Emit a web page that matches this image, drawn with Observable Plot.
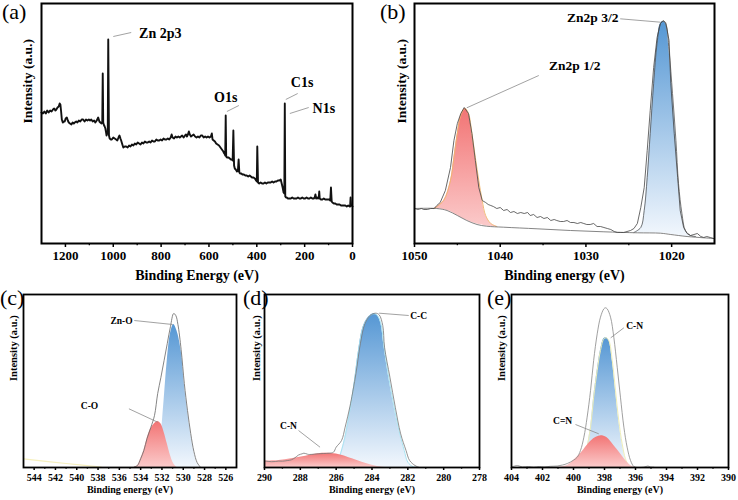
<!DOCTYPE html>
<html>
<head>
<meta charset="utf-8">
<script src="https://cdn.jsdelivr.net/npm/d3@7"></script>
<script src="https://cdn.jsdelivr.net/npm/@observablehq/plot@0.6"></script>
<style>
  html, body { margin: 0; padding: 0; background: #fff; }
  #fig { position: relative; width: 738px; height: 500px; overflow: hidden; background: #fff; }
  #fig svg text { font-family: "Liberation Serif", "Times New Roman", Times, serif; }
  .tag { position: absolute; font-family: "Liberation Serif", "Times New Roman", serif; line-height: 1; color: #000; }
</style>
</head>
<body>
<div id="fig">
  <svg width="0" height="0" style="position:absolute">
    <defs>
      <linearGradient id="blueFade" x1="0" y1="0" x2="0" y2="1">
        <stop offset="0" stop-color="#5597d4"/>
        <stop offset="1" stop-color="#f2f7fd"/>
      </linearGradient>
      <linearGradient id="redFade" x1="0" y1="0" x2="0" y2="1">
        <stop offset="0" stop-color="#f27474"/>
        <stop offset="1" stop-color="#fbcaca"/>
      </linearGradient>
    </defs>
  </svg>
  <div class="tag" style="left:2px;top:1px;font-size:22px">(a)</div>
  <div class="tag" style="left:380px;top:1px;font-size:22px">(b)</div>
  <div class="tag" style="left:0px;top:287px;font-size:22px">(c)</div>
  <div class="tag" style="left:243px;top:287px;font-size:22px">(d)</div>
  <div class="tag" style="left:487px;top:287px;font-size:22px">(e)</div>
</div>
<script>
// ---------- (a) survey spectrum: [binding energy (eV), intensity (a.u.)] ----------
const survey = [
  [1300,131],[1294,130],[1288,132],[1282,130],[1276,133],[1270,131],[1264,133],[1258,132],[1252,134],[1247,135],
  [1242,133],[1238,134],[1233,136],[1228,137],[1224,140],[1221,139],[1218,132],[1215,124],[1211,121],[1207,122],
  [1203,122],[1199,125],[1194,126],[1190,123],[1186,121],[1181,120],[1175,119],[1170,121],[1165,120],[1161,121],
  [1155,122],[1150,121],[1144,123],[1138,122],[1132,124],[1126,124],[1120,122],[1114,124],[1108,123],[1102,124],
  [1097,123],[1092,124],[1086,122],[1080,123],[1075,121],[1069,123],[1063,126],[1058,122],[1054,121],[1049,120],
  [1046,122],[1044,170],[1042,121],[1040,119],[1036,117],[1033,115],[1030,111],[1028,108],[1025,110],[1023,112],
  [1021,204],[1018,108],[1015,105],[1010,104],[1006,104],[1000,106],[994,105],[988,104],[983,103],[978,106],
  [974,108],[970,105],[967,103],[962,99],[958,96],[952,97],[946,97],[940,96],[934,98],[928,97],
  [922,99],[916,98],[910,100],[904,99],[898,101],[892,100],[886,99],[880,101],[874,100],[868,102],
  [862,101],[856,101],[850,102],[844,101],[838,103],[832,102],[826,102],[820,104],[814,103],[808,103],
  [802,104],[796,103],[790,105],[784,104],[778,104],[772,105],[766,104],[760,106],[756,109],[752,106],
  [746,105],[740,107],[734,106],[728,107],[722,106],[717,107],[712,108],[706,106],[700,108],[696,109],
  [692,107],[688,109],[684,112],[680,109],[675,107],[670,108],[664,109],[658,107],[652,106],[646,107],
  [640,106],[634,108],[628,108],[622,106],[616,107],[610,106],[604,107],[598,106],[592,107],[588,110],
  [585,104],[580,103],[575,102],[570,100],[564,99],[558,98],[552,96],[546,94],[540,92],[536,90],
  [533,89],[532,88],[530,128],[528,87],[524,86],[518,86],[513,85],[508,84],[504,84],[501,83],
  [498,113],[495,78],[492,75],[488,74],[483,72],[479,73],[476,84],[473,71],[470,70],[465,70],
  [460,69],[454,69],[448,68],[442,68],[436,67],[430,68],[425,67],[420,66],[414,66],[408,65],
  [403,63],[400,62],[398,97],[395,61],[390,60],[384,61],[378,60],[372,60],[366,61],[360,60],
  [354,61],[348,61],[342,61],[336,62],[330,61],[324,62],[318,62],[312,63],[306,63],[300,64],
  [296,60],[292,56],[288,51],[285,50],[283,140],[281,47],[278,46],[275,46],[270,45],[264,45],
  [258,45],[252,46],[246,45],[240,45],[234,45],[228,46],[222,45],[216,45],[210,46],[204,45],
  [198,45],[192,46],[186,45],[180,45],[174,46],[168,45],[162,45],[158,46],[155,49],[152,45],
  [148,46],[144,45],[141,46],[139,52],[137,45],[132,44],[126,44],[120,45],[114,44],[108,44],
  [102,44],[97,44],[93,43],[90,56],[87,42],[84,41],[78,40],[72,40],[66,39],[60,39],
  [54,39],[48,38],[42,38],[36,38],[30,38],[24,37],[18,38],[12,37],[10,37],[8,46],
  [6,38],[3,38],[0,37]
];
const surveyTicks = [1200, 1000, 800, 600, 400, 200, 0];
const surveyMinor = [1100, 900, 700, 500, 300, 100];
const surveyLabels = ["Zn 2p3", "O1s", "C1s", "N1s"];
const surveyLabelAt = [[892, 210], [579, 146], [258, 161], [167, 135]];
const surveyLeaders = [[1000, 207, 925, 211], [525, 132, 475, 138], [279, 144, 229, 150], [262, 130, 183, 136]];

// ---------- (b) Zn 2p: measured envelope, Shirley background, fitted doublet ----------
const zn2pEnvelope = [
  [1050,35],[1049.6,34],[1049.2,35],[1048.9,34],[1048.5,34],[1048.1,35],[1047.7,35],[1047.4,38],[1047.0,41],
  [1046.4,53],[1045.8,76],[1045.4,103],[1045.0,120],[1044.6,130],[1044.2,136],[1043.7,130],[1043.3,110],
  [1042.9,83],[1042.5,56],[1042.1,43],[1041.7,41],[1041.4,39],[1041.1,38],[1040.8,37],[1040.4,35],[1040.0,36],
  [1039.6,33],[1039.2,34],[1038.8,31],[1038.4,32],[1038.0,30],[1037.6,31],[1037.2,30],[1036.8,31],[1036.5,28],
  [1036.1,29],[1035.7,26],[1035.3,27],[1034.9,25],[1034.5,26],[1034.1,23],[1033.7,24],[1033.4,23],[1033.0,22],
  [1032.6,22],[1032.2,23],[1031.8,21],[1031.4,21],[1031.0,20],[1030.6,21],[1030.25,20],[1029.9,19],[1029.5,19],
  [1029.1,20],[1028.7,17],[1028.3,17],[1027.9,16],[1027.5,15],[1027.1,14],[1026.7,12],[1026.35,11],[1026.0,11],
  [1025.6,11],[1025.2,12],[1024.8,13],[1024.4,15],[1024.0,20],[1023.6,36],[1023.2,56],[1022.85,93],[1022.5,133],
  [1022.1,176],[1021.7,206],[1021.3,220],[1021.0,223],[1020.7,221],[1020.3,203],[1020.1,160],[1019.7,110],
  [1019.3,66],[1019.0,33],[1018.6,16],[1018.2,10],[1017.8,8],[1017.4,9],[1017.0,10],[1016.6,7],[1016.25,6],
  [1015.9,7],[1015.5,6],[1015.1,5]
];
const zn2pBackground = [
  [1050,35],[1047.4,35],[1046.2,33],[1045.0,28],[1043.9,23],[1042.7,19],[1041.6,17.3],[1039.6,16.3],
  [1035.7,14.7],[1031.8,13],[1027.9,11.7],[1024.0,10.7],[1021.3,10.3],[1020.1,9],[1018.2,7],[1016.25,5.7],[1015.1,5]
];
// [eV, component, background]
const zn2p12 = [
  [1047.7,35,35],[1046.6,43,34],[1045.8,63,32],[1045.4,86,30],[1045.0,110,28],[1044.6,128,26],[1044.1,135,24],
  [1043.7,130,22.5],[1043.3,110,21],[1042.9,86,20],[1042.5,63,19],[1042.1,43,18.5],[1041.7,28,17.5],
  [1041.1,20,17],[1040.4,17,16.5]
];
const zn2p32 = [
  [1024.4,11,10.7],[1023.6,16,10.6],[1023.2,33,10.5],[1022.85,66,10.5],[1022.5,110,10.4],[1022.1,160,10.4],
  [1021.7,200,10.3],[1021.3,220,10.3],[1021.0,222,10.2],[1020.7,220,10],[1020.3,193,9.5],[1019.9,150,9],
  [1019.5,103,8.5],[1019.2,60,8],[1018.8,30,7.5],[1018.4,13,7.2],[1017.8,8,6.8],[1017.2,7,6.5]
];
const zn2pTicks = [1050, 1040, 1030, 1020];
const zn2pMinor = [1045, 1035, 1025];
const zn2pLabels = ["Zn2p 3/2", "Zn2p 1/2"];
const zn2pLabelAt = [[1029.2, 225.7], [1031.3, 178]];
const zn2pLeaders = [[1026.0, 224.7, 1021.3, 221.3], [1035.5, 168, 1043.9, 135.7]];

// ---------- (c) O 1s ----------
const o1sEnvelope = [
  [534.6,0.5],[534.3,2],[534.0,8.7],[533.7,17],[533.4,29],[533.05,40],[532.7,52],[532.4,74],[532.1,90],
  [531.8,107],[531.5,124],[531.2,141],[530.9,154],[530.7,152],[530.5,143],[530.2,118],[529.9,84],[529.6,57],
  [529.3,34],[529.0,16],[528.7,5],[528.4,0.5]
];
const o1sZnO = [
  [533.2,0],[532.9,1],[532.4,10.3],[532.1,30.3],[531.8,67],[531.5,107],[531.2,133.7],[530.9,143],[530.6,137],
  [530.2,117],[529.9,83.7],[529.6,57],[529.3,33.7],[529.0,15.3],[528.7,3.7],[528.4,0]
];
const o1sCO = [
  [534.6,0.3],[534.3,2],[534.0,8.7],[533.7,17],[533.4,28.7],[533.05,38.7],[532.7,43.7],[532.4,46],[532.1,43.7],
  [531.8,35.3],[531.5,23.7],[531.2,12],[530.9,3.7],[530.6,0]
];
const o1sBackground = [[545,8.7],[541,4],[537.7,0.3]];
const o1sTicks = [544, 542, 540, 538, 536, 534, 532, 530, 528, 526];
const o1sMinor = [543, 541, 539, 537, 535, 533, 531, 529, 527];
const o1sLabels = ["Zn-O", "C-O"];
const o1sLabelAt = [[535.8, 147], [538.8, 62]];
const o1sLeaders = [[534.6, 147, 531.0, 143], [535.1, 58.7, 532.4, 45.3]];

// ---------- (d) C 1s ----------
const c1sEnvelope = [
  [290,6.5],[289.9,6.3],[289.6,5.8],[289.4,6],[289.2,6.4],[289.0,6.3],[288.7,7],[288.5,7.7],[288.3,9.7],
  [288.1,12.5],[287.9,13.7],[287.8,14.3],[287.6,13.3],[287.5,13],[287.2,13.4],[287.0,13.7],[286.7,14],
  [286.4,14.3],[286.15,15.3],[286.0,20.3],[285.7,27],[285.5,40.3],[285.2,63.7],[284.9,93.7],[284.65,123.7],
  [284.4,143.7],[284.1,152],[283.8,154.3],[283.6,152.7],[283.4,142],[283.3,120.3],[283.0,90.3],[282.7,60.3],
  [282.4,33.7],[282.1,17],[281.9,7],[281.6,2],[281.4,0.3]
];
const c1sCC = [
  [286.15,0.3],[285.9,7],[285.6,23.7],[285.3,50.3],[285.0,83.7],[284.75,117],[284.5,140.3],[284.2,150.3],
  [283.9,153.7],[283.7,152],[283.5,143.7],[283.35,123.7],[283.1,93.7],[282.8,63.7],[282.5,37],[282.2,17],
  [282.0,5.3],[281.7,0.7],[281.4,0]
];
const c1sCN = [
  [290,6.5],[289.2,7],[288.5,8.7],[287.7,11.3],[287.0,13.7],[286.3,14],[285.7,12.3],[285.1,8.7],[284.56,5.3],
  [284.0,2.3],[283.4,0.3],[282.9,0]
];
const c1sTicks = [290, 288, 286, 284, 282, 280, 278];
const c1sMinor = [289, 287, 285, 283, 281, 279];
const c1sLabels = ["C-C", "C-N"];
const c1sLabelAt = [[281.4, 151.3], [288.66, 41.3]];
const c1sLeaders = [[283.6, 154.3, 281.95, 152], [288.1, 37, 286.9, 20.3]];

// ---------- (e) N 1s ----------
const n1sEnvelope = [
  [404,0.5],[403.8,1.5],[403.6,2],[403.3,0.5],[402.9,1],[402.56,0.3],[402.2,1],[401.9,0.5],[401.5,1.2],
  [401.05,1.5],[400.7,2.5],[400.4,4],[400.0,7.3],[399.76,10.3],[399.55,17],[399.33,30.3],[399.12,50.3],
  [398.9,77],[398.7,107],[398.47,133.7],[398.26,150.3],[398.04,158.7],[397.94,159.7],[397.83,158.7],
  [397.61,150.3],[397.4,130.3],[397.18,100.3],[396.97,70.3],[396.75,40.3],[396.54,20.3],[396.32,7],
  [396.11,1],[395.89,0],[395.46,0.3],[395.2,1.5],[395.03,0.5],[394.82,0.3]
];
const n1sCN = [
  [399.55,0.3],[399.23,13.7],[398.9,40.3],[398.7,70.3],[398.47,97],[398.26,117],[398.04,128.7],[397.9,129.7],
  [397.72,127],[397.5,107],[397.29,77],[397.08,47],[396.86,23.7],[396.65,8.7],[396.43,2],[396.21,0]
];
const n1sCeqN = [
  [401.05,0],[400.4,2],[400.0,7],[399.55,13.7],[399.12,22],[398.7,28.7],[398.37,31.3],[398.15,31.7],
  [397.83,29.7],[397.4,22],[396.97,13.7],[396.54,5.3],[396.21,1],[395.89,0]
];
const n1sTicks = [404, 402, 400, 398, 396, 394, 392, 390];
const n1sMinor = [403, 401, 399, 397, 395, 393, 391];
const n1sLabels = ["C-N", "C=N"];
const n1sLabelAt = [[396.06, 142], [400.7, 46.3]];
const n1sLeaders = [[396.75, 139.7, 397.6, 129.7], [399.87, 43, 398.37, 33.7]];

// ---------- drawing ----------
const serif = "Liberation Serif, Times New Roman, Times, serif";
const fig = document.getElementById("fig");
const pts = (rows) => rows.map(([x, y, b]) => ({x, y, b: b ?? 0}));
const labelRows = (names, at) => names.map((text, i) => ({text, x: at[i][0], y: at[i][1]}));
const leaderRows = (rows) => rows.map(([x1, y1, x2, y2]) => ({x1, y1, x2, y2}));

function panel(cfg) {
  const font = {fontFamily: serif, fontWeight: "bold"};
  const svg = Plot.plot({
    width: cfg.width,
    height: cfg.height,
    marginTop: cfg.margin[0],
    marginRight: cfg.margin[1],
    marginBottom: cfg.margin[2],
    marginLeft: cfg.margin[3],
    x: {domain: cfg.xDomain, axis: null},
    y: {domain: cfg.yDomain, axis: null},
    style: {fontFamily: serif, fontWeight: "bold", fontSize: cfg.tickFont + "px", color: "#000", background: "transparent", overflow: "visible"},
    marks: [
      ...cfg.marks,
      Plot.text(labelRows(cfg.labels, cfg.labelAt), {x: "x", y: "y", text: "text", textAnchor: cfg.labelAnchor, fontSize: cfg.labelFont, fill: "#000", ...font}),
      Plot.link(leaderRows(cfg.leaders), {x1: "x1", y1: "y1", x2: "x2", y2: "y2", stroke: "#8a8a8a", strokeWidth: 0.8}),
      Plot.frame({stroke: "#000", strokeWidth: cfg.frameWidth}),
      Plot.axisX(cfg.ticks, {anchor: "bottom", label: null, tickSize: cfg.tickSize, tickPadding: cfg.tickPadding, strokeWidth: 1.5, tickFormat: (d) => String(d), fontSize: cfg.tickFont, ...font}),
      Plot.axisX(cfg.minor, {anchor: "bottom", label: null, tickSize: cfg.tickSize * 0.55, strokeWidth: 1.3, tickFormat: () => ""}),
      Plot.text([cfg.xTitle], {text: (d) => d, frameAnchor: "bottom", dy: cfg.xTitleDy, fontSize: cfg.titleFont, ...font}),
      Plot.text([cfg.yTitle], {text: (d) => d, frameAnchor: "left", dx: cfg.yTitleDx, rotate: -90, fontSize: cfg.yTitleFont, ...font})
    ]
  });
  svg.setAttribute("font-family", serif);
  svg.style.position = "absolute";
  svg.style.left = cfg.left + "px";
  svg.style.top = cfg.top + "px";
  svg.style.maxWidth = "none";
  fig.appendChild(svg);
}

const topRow = {height: 290, tickFont: 13, tickSize: 4, tickPadding: 3, titleFont: 14, yTitleFont: 13.5, xTitleDy: 36, frameWidth: 2, yDomain: [0, 240]};
const bottomRow = {top: 285, height: 215, tickFont: 10, tickSize: 3, tickPadding: 3, titleFont: 10, yTitleFont: 10.5, xTitleDy: 25, frameWidth: 1.8, yDomain: [0, 173], labelFont: 9.5, labelAnchor: "middle"};

// (a) survey
panel({
  ...topRow, left: 0, top: 0, width: 370, margin: [3, 18, 47, 41],
  xDomain: [1300, 0], ticks: surveyTicks, minor: surveyMinor,
  xTitle: "Binding Energy (eV)", yTitle: "Intensity (a.u.)", yTitleDx: -13.5,
  labels: surveyLabels, labelAt: surveyLabelAt, labelAnchor: "start", labelFont: 14, leaders: surveyLeaders,
  marks: [
    Plot.line(pts(survey), {x: "x", y: "y", stroke: "#111", strokeWidth: 1.9, strokeLinejoin: "round"})
  ]
});

// (b) Zn 2p
panel({
  ...topRow, left: 370, top: 0, width: 368, margin: [3, 24, 47, 44],
  xDomain: [1050, 1015], ticks: zn2pTicks, minor: zn2pMinor,
  xTitle: "Binding energy (eV)", yTitle: "Intensity (a.u.)", yTitleDx: -13,
  labels: zn2pLabels, labelAt: zn2pLabelAt, labelAnchor: "middle", labelFont: 13.5, leaders: zn2pLeaders,
  marks: [
    Plot.areaY(pts(zn2p12), {x: "x", y1: "b", y2: "y", fill: "url(#redFade)", curve: "catmull-rom"}),
    Plot.line(pts(zn2p12), {x: "x", y: "y", stroke: "#efb36a", strokeWidth: 0.9, curve: "catmull-rom"}),
    Plot.areaY(pts(zn2p32), {x: "x", y1: "b", y2: "y", fill: "url(#blueFade)", curve: "catmull-rom"}),
    Plot.line(pts(zn2p32), {x: "x", y: "y", stroke: "#555", strokeWidth: 0.8, curve: "catmull-rom"}),
    Plot.line(pts(zn2pBackground), {x: "x", y: "y", stroke: "#666", strokeWidth: 0.8, curve: "catmull-rom"}),
    Plot.line(pts(zn2pEnvelope), {x: "x", y: "y", stroke: "#444", strokeWidth: 0.8})
  ]
});

// (c) O 1s
panel({
  ...bottomRow, left: 0, width: 245, margin: [9, 9, 33, 23],
  xDomain: [545, 525], ticks: o1sTicks, minor: o1sMinor,
  xTitle: "Binding energy (eV)", yTitle: "Intensity (a.u.)", yTitleDx: -10,
  labels: o1sLabels, labelAt: o1sLabelAt, leaders: o1sLeaders,
  marks: [
    Plot.line(pts(o1sBackground), {x: "x", y: "y", stroke: "#f6f0bf", strokeWidth: 1.2, curve: "catmull-rom"}),
    Plot.areaY(pts(o1sZnO), {x: "x", y1: "b", y2: "y", fill: "url(#blueFade)", curve: "catmull-rom"}),
    Plot.areaY(pts(o1sCO), {x: "x", y1: "b", y2: "y", fill: "url(#redFade)", curve: "catmull-rom"}),
    Plot.line(pts(o1sEnvelope), {x: "x", y: "y", stroke: "#666", strokeWidth: 0.8, curve: "catmull-rom"})
  ]
});

// (d) C 1s
panel({
  ...bottomRow, left: 245, width: 245, margin: [9, 11, 33, 19],
  xDomain: [290, 278], ticks: c1sTicks, minor: c1sMinor,
  xTitle: "Binding energy (eV)", yTitle: "Intensity (a.u.)", yTitleDx: -7.5,
  labels: c1sLabels, labelAt: c1sLabelAt, leaders: c1sLeaders,
  marks: [
    Plot.areaY(pts(c1sCC), {x: "x", y1: "b", y2: "y", fill: "url(#blueFade)", curve: "catmull-rom"}),
    Plot.line(pts(c1sCC), {x: "x", y: "y", stroke: "#a9e3f2", strokeWidth: 1, curve: "catmull-rom"}),
    Plot.areaY(pts(c1sCN), {x: "x", y1: "b", y2: "y", fill: "url(#redFade)", curve: "catmull-rom"}),
    Plot.line(pts(c1sEnvelope), {x: "x", y: "y", stroke: "#777", strokeWidth: 0.8, curve: "catmull-rom"})
  ]
});

// (e) N 1s
panel({
  ...bottomRow, left: 490, width: 248, margin: [9, 10, 33, 21],
  xDomain: [404, 390], ticks: n1sTicks, minor: n1sMinor,
  xTitle: "Binding energy (eV)", yTitle: "Intensity (a.u.)", yTitleDx: -9.5,
  labels: n1sLabels, labelAt: n1sLabelAt, leaders: n1sLeaders,
  marks: [
    Plot.areaY(pts(n1sCN), {x: "x", y1: "b", y2: "y", fill: "url(#blueFade)", curve: "catmull-rom"}),
    Plot.line(pts(n1sCN), {x: "x", y: "y", stroke: "#eeeeb8", strokeWidth: 1, curve: "catmull-rom"}),
    Plot.areaY(pts(n1sCeqN), {x: "x", y1: "b", y2: "y", fill: "url(#redFade)", curve: "catmull-rom"}),
    Plot.line(pts(n1sEnvelope), {x: "x", y: "y", stroke: "#888", strokeWidth: 0.8, curve: "catmull-rom"})
  ]
});
</script>
</body>
</html>
